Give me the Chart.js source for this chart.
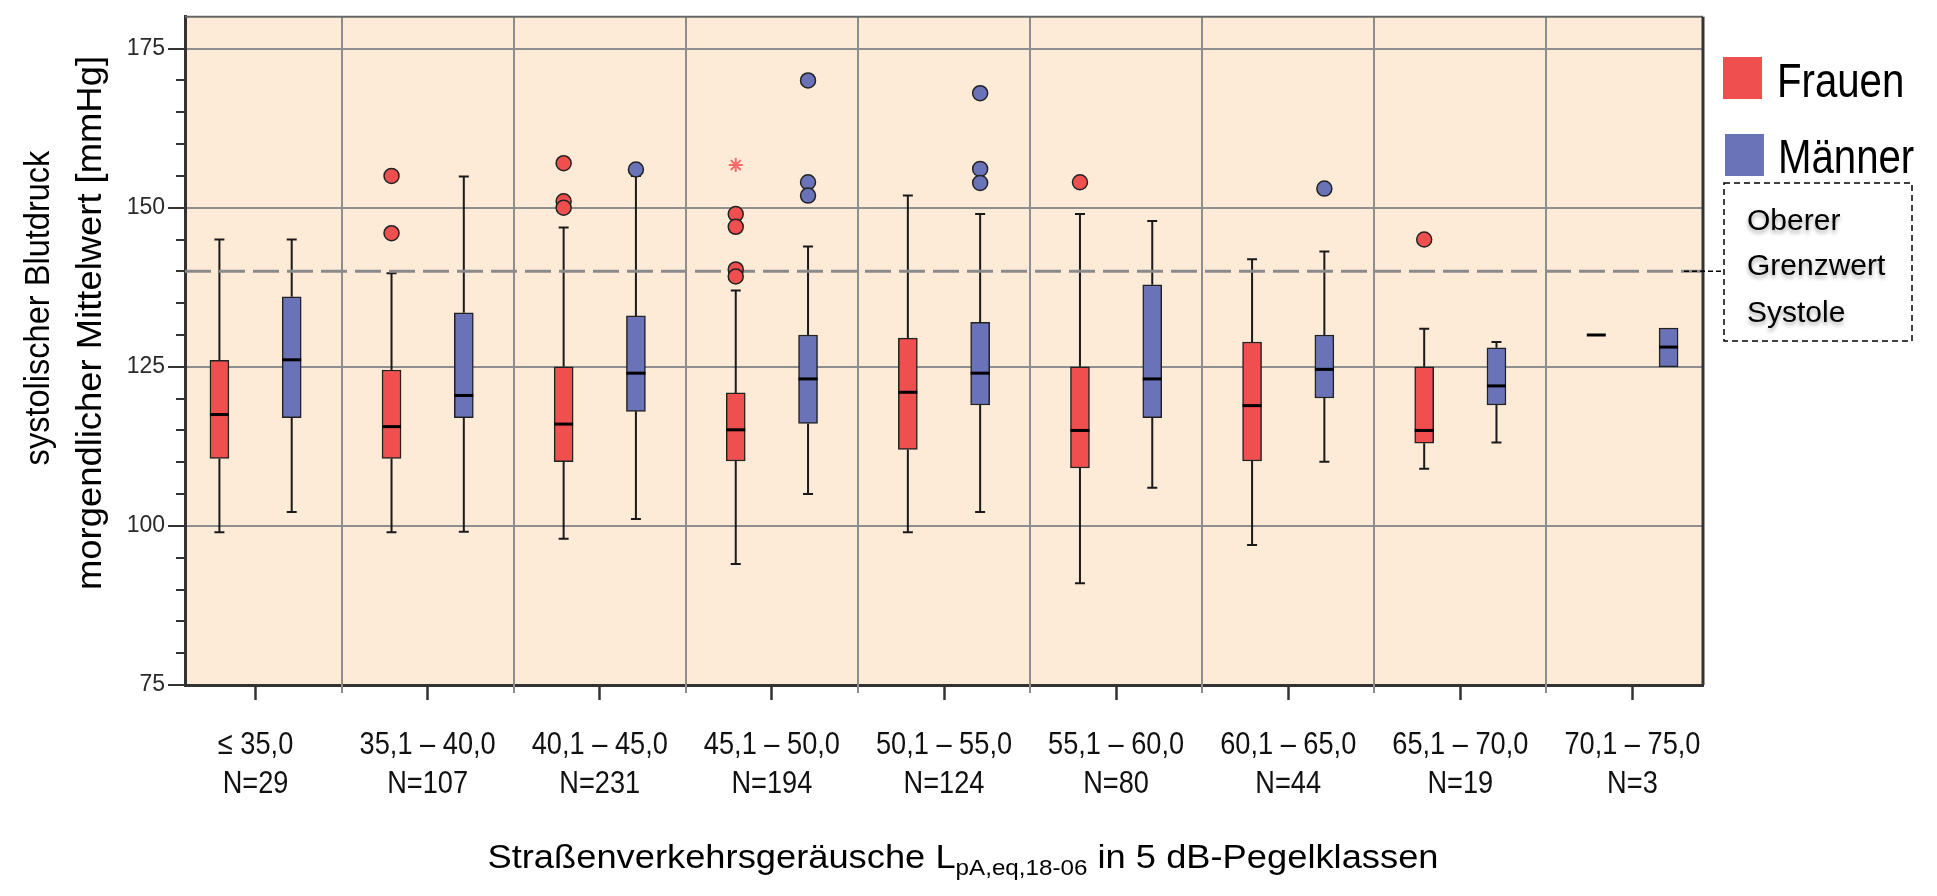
<!DOCTYPE html>
<html>
<head>
<meta charset="utf-8">
<script src="https://cdn.jsdelivr.net/npm/chart.js@4.4.1/dist/chart.umd.min.js"></script>
<style>
  html, body { margin: 0; padding: 0; background: #ffffff; }
  #wrap { width: 1937px; height: 896px; position: relative; }
</style>
</head>
<body>
<div id="wrap"><canvas id="chart"></canvas></div>
<script>
// Noise classes (road traffic, 5 dB steps) and group sizes
const categories = ['≤ 35,0', '35,1 – 40,0', '40,1 – 45,0', '45,1 – 50,0', '50,1 – 55,0',
                    '55,1 – 60,0', '60,1 – 65,0', '65,1 – 70,0', '70,1 – 75,0'];
const groupSizes = [29, 107, 231, 194, 124, 80, 44, 19, 3];
const yTickValues = [75, 100, 125, 150, 175];
const systoleLimit = 140;

// Frauen: five-number summaries per class
const womenMin    = [99, 99, 98, 94, 99, 91, 97, 109, 130];
const womenQ1     = [110.6, 110.6, 110.1, 110.2, 112, 109.1, 110.2, 113, 130];
const womenMedian = [117.5, 115.6, 116, 115.1, 121, 115, 118.9, 115, 130];
const womenQ3     = [126, 124.5, 125, 120.9, 129.5, 125, 128.9, 125, 130];
const womenMax    = [145, 139.7, 146.9, 137, 151.9, 149, 141.9, 131, 130];
const womenOutliers = [[], [155, 146], [157, 151, 150], [149, 147, 140.3, 139.2], [], [154], [], [145], []];
const womenExtremes = [[], [], [], [156.7], [], [], [], [], []];

// Männer: five-number summaries per class
const menMin    = [102.2, 99.1, 101.1, 105, 102.2, 106, 110.1, 113.1, 125];
const menQ1     = [117, 117, 118, 116.1, 119, 117, 120.1, 119, 125];
const menMedian = [126.1, 120.5, 124, 123.1, 124, 123.1, 124.6, 122, 128.1];
const menQ3     = [136, 133.5, 133, 130, 132, 137.9, 130, 128, 131.1];
const menMax    = [145, 154.9, 155, 143.9, 149, 147.9, 143.1, 128.9, 131.1];
const menOutliers = [[], [], [156], [170, 154, 151.9], [168, 156.1, 153.9], [], [153], [], []];
const menExtremes = [[], [], [], [], [], [], [], [], []];

const RED = '#f04f4f';
const BLUE = '#6a72b8';
const INK = '#1a1a1a';
const SANS = '"Liberation Sans", Arial, sans-serif';
const SHIFT = 0.21;      // horizontal offset of each sex within a class
const BOX_W = 19;

const series = [
  { sign: -1, color: RED,  min: womenMin, q1: womenQ1, med: womenMedian, q3: womenQ3, max: womenMax },
  { sign:  1, color: BLUE, min: menMin,   q1: menQ1,   med: menMedian,   q3: menQ3,   max: menMax }
];

function boxes(q1, q3, sign) {
  return categories.map((_, i) => ({ x: i + sign * SHIFT, y: [q1[i], q3[i]] }));
}
function points(lists, sign) {
  const out = [];
  lists.forEach((arr, i) => arr.forEach(v => out.push({ x: i + sign * SHIFT, y: v })));
  return out;
}

// text with horizontal squeeze/stretch (condensed lettering)
function drawText(ctx, text, x, y, size, sx, align) {
  ctx.save();
  ctx.font = size + 'px ' + SANS;
  ctx.textAlign = align || 'left';
  ctx.textBaseline = 'alphabetic';
  ctx.translate(x, y);
  ctx.scale(sx, 1);
  ctx.fillText(text, 0, 0);
  ctx.restore();
}
function textWidth(ctx, text, size, sx) {
  ctx.save();
  ctx.font = size + 'px ' + SANS;
  const w = ctx.measureText(text).width * sx;
  ctx.restore();
  return w;
}

const boxplotExtras = {
  id: 'boxplotExtras',
  beforeDraw(chart) {
    const { ctx, chartArea: a } = chart;
    ctx.save();
    ctx.fillStyle = '#fdead7';
    ctx.fillRect(a.left, a.top, a.right - a.left, a.bottom - a.top);
    ctx.restore();
  },
  beforeDatasetsDraw(chart) {
    const { ctx, chartArea: a, scales: { x, y } } = chart;
    ctx.save();
    // class boundaries
    ctx.strokeStyle = '#8d8d8d';
    ctx.lineWidth = 2;
    for (let i = 0; i <= categories.length; i++) {
      const px = Math.round(x.getPixelForValue(i - 0.5));
      if (px <= a.left + 1 || px >= a.right - 1) continue;
      ctx.beginPath(); ctx.moveTo(px, a.top); ctx.lineTo(px, a.bottom + 8); ctx.stroke();
    }
    // whiskers
    ctx.strokeStyle = INK;
    ctx.lineWidth = 2;
    series.forEach(s => {
      categories.forEach((_, i) => {
        const px = x.getPixelForValue(i + s.sign * SHIFT);
        if (s.max[i] > s.q3[i]) {
          const y0 = y.getPixelForValue(s.q3[i]), y1 = y.getPixelForValue(s.max[i]);
          ctx.beginPath(); ctx.moveTo(px, y0); ctx.lineTo(px, y1);
          ctx.moveTo(px - 5, y1); ctx.lineTo(px + 5, y1); ctx.stroke();
        }
        if (s.min[i] < s.q1[i]) {
          const y0 = y.getPixelForValue(s.q1[i]), y1 = y.getPixelForValue(s.min[i]);
          ctx.beginPath(); ctx.moveTo(px, y0); ctx.lineTo(px, y1);
          ctx.moveTo(px - 5, y1); ctx.lineTo(px + 5, y1); ctx.stroke();
        }
      });
    });
    // upper systolic limit
    const ly = y.getPixelForValue(systoleLimit);
    ctx.strokeStyle = '#8a8a8a';
    ctx.lineWidth = 3;
    ctx.setLineDash([26, 8]);
    ctx.beginPath(); ctx.moveTo(a.left, ly); ctx.lineTo(a.right, ly); ctx.stroke();
    ctx.restore();
  },
  afterDatasetsDraw(chart) {
    const { ctx, chartArea: a, scales: { x, y } } = chart;
    ctx.save();
    // medians
    ctx.strokeStyle = '#000';
    ctx.lineWidth = 3;
    series.forEach(s => {
      categories.forEach((_, i) => {
        const px = x.getPixelForValue(i + s.sign * SHIFT);
        const py = y.getPixelForValue(s.med[i]);
        ctx.beginPath(); ctx.moveTo(px - BOX_W / 2, py); ctx.lineTo(px + BOX_W / 2, py); ctx.stroke();
      });
    });
    // minor ticks on the value axis
    ctx.strokeStyle = '#333';
    ctx.lineWidth = 2;
    for (let v = 80; v < 180; v += 5) {
      if (yTickValues.includes(v)) continue;
      const py = Math.round(y.getPixelForValue(v));
      ctx.beginPath(); ctx.moveTo(a.left - 9, py); ctx.lineTo(a.left, py); ctx.stroke();
    }
    // frame top and right
    ctx.strokeStyle = '#666';
    ctx.lineWidth = 2;
    ctx.beginPath(); ctx.moveTo(a.left, a.top); ctx.lineTo(a.right, a.top); ctx.stroke();
    ctx.strokeStyle = '#333';
    ctx.lineWidth = 3;
    ctx.beginPath(); ctx.moveTo(a.right, a.top); ctx.lineTo(a.right, a.bottom); ctx.stroke();
    ctx.restore();
  },
  afterDraw(chart) {
    const { ctx, scales: { x, y } } = chart;
    ctx.save();
    ctx.fillStyle = '#111';

    // class labels with group sizes
    categories.forEach((c, i) => {
      const px = x.getPixelForValue(i);
      drawText(ctx, c, px, 754, 32, 0.85, 'center');
      drawText(ctx, 'N=' + groupSizes[i], px, 793, 32, 0.85, 'center');
    });

    // value axis title (two lines, rotated)
    ctx.fillStyle = '#000';
    [['systolischer Blutdruck', 49, 308, 0.93], ['morgendlicher Mittelwert [mmHg]', 101, 323, 1.04]]
      .forEach(([t, bx, cy, sx]) => {
        ctx.save(); ctx.translate(bx, cy); ctx.rotate(-Math.PI / 2);
        drawText(ctx, t, 0, 0, 35, sx, 'center');
        ctx.restore();
      });

    // category axis title with subscript
    const p1 = 'Straßenverkehrsgeräusche L', p2 = 'pA,eq,18-06', p3 = ' in 5 dB-Pegelklassen';
    const SX = 1.1;
    const w1 = textWidth(ctx, p1, 33, SX), w2 = textWidth(ctx, p2, 22, SX), w3 = textWidth(ctx, p3, 33, SX);
    let tx = 963 - (w1 + w2 + w3) / 2;
    const base = 868;
    drawText(ctx, p1, tx, base, 33, SX); tx += w1;
    drawText(ctx, p2, tx, base + 7, 22, SX); tx += w2;
    drawText(ctx, p3, tx, base, 33, SX);

    // legend
    ctx.fillStyle = RED;  ctx.fillRect(1723, 57, 39, 42);
    ctx.fillStyle = BLUE; ctx.fillRect(1725, 134, 39, 42);
    ctx.fillStyle = '#000';
    drawText(ctx, 'Frauen', 1777, 97, 49, 0.82);
    drawText(ctx, 'Männer', 1778, 173, 49, 0.82);

    // note box for the limit line
    const ly = y.getPixelForValue(systoleLimit);
    ctx.strokeStyle = '#000';
    ctx.lineWidth = 1.5;
    ctx.setLineDash([5, 3]);
    ctx.beginPath(); ctx.moveTo(1684, ly); ctx.lineTo(1724, ly); ctx.stroke();
    ctx.setLineDash([6, 4]);
    ctx.strokeRect(1724, 183, 188, 158);
    ctx.setLineDash([]);
    ctx.shadowColor = 'rgba(0,0,0,0.35)';
    ctx.shadowBlur = 4;
    ctx.shadowOffsetY = 3;
    drawText(ctx, 'Oberer', 1747, 230, 30, 1);
    drawText(ctx, 'Grenzwert', 1747, 275, 30, 1);
    drawText(ctx, 'Systole', 1747, 322, 30, 1);
    ctx.restore();
  }
};

const datasets = [
  { type: 'bar', label: 'Frauen', data: boxes(womenQ1, womenQ3, -1), backgroundColor: RED,
    borderColor: '#222', borderWidth: 1.5, borderSkipped: false, barThickness: BOX_W, grouped: false },
  { type: 'bar', label: 'Männer', data: boxes(menQ1, menQ3, 1), backgroundColor: BLUE,
    borderColor: '#222', borderWidth: 1.5, borderSkipped: false, barThickness: BOX_W, grouped: false },
  { type: 'scatter', label: 'Frauen Ausreißer', data: points(womenOutliers, -1), backgroundColor: RED,
    borderColor: '#222', borderWidth: 1.5, pointRadius: 7.5, pointHoverRadius: 7.5 },
  { type: 'scatter', label: 'Männer Ausreißer', data: points(menOutliers, 1), backgroundColor: BLUE,
    borderColor: '#222', borderWidth: 1.5, pointRadius: 7.5, pointHoverRadius: 7.5 },
  { type: 'scatter', label: 'Frauen Extremwerte', data: points(womenExtremes, -1), pointStyle: 'star',
    borderColor: '#f36b6b', borderWidth: 2, pointRadius: 7, pointHoverRadius: 7 },
  { type: 'scatter', label: 'Männer Extremwerte', data: points(menExtremes, 1), pointStyle: 'star',
    borderColor: '#7d84c4', borderWidth: 2, pointRadius: 7, pointHoverRadius: 7 }
];

new Chart(document.getElementById('chart'), {
  type: 'bar',
  data: { datasets },
  options: {
    responsive: true,
    maintainAspectRatio: false,
    animation: false,
    devicePixelRatio: 1,
    layout: { padding: { top: 9, right: 234, left: 0, bottom: 0 } },
    plugins: { legend: { display: false }, tooltip: { enabled: false } },
    scales: {
      x: {
        type: 'linear',
        min: -0.41,
        max: 8.41,
        offset: false,
        afterBuildTicks: s => { s.ticks = categories.map((_, i) => ({ value: i })); },
        afterFit: s => { s.height = 211; },
        grid: { display: true, drawOnChartArea: false, drawTicks: true, tickLength: 15,
                tickColor: '#333', tickWidth: 2.5, offset: false },
        border: { display: true, color: '#333', width: 3 },
        ticks: { display: false }
      },
      y: {
        type: 'linear',
        min: 75,
        max: 180,
        afterBuildTicks: s => { s.ticks = yTickValues.map(v => ({ value: v })); },
        afterFit: s => { s.width = 185; },
        grid: { color: '#8e8e8e', lineWidth: 2, tickColor: '#333', tickLength: 17, tickWidth: 2 },
        border: { display: true, color: '#333', width: 3 },
        ticks: { padding: 3, color: '#2a2a2a', font: { family: SANS, size: 23 } }
      }
    }
  },
  plugins: [boxplotExtras]
});
</script>
</body>
</html>
